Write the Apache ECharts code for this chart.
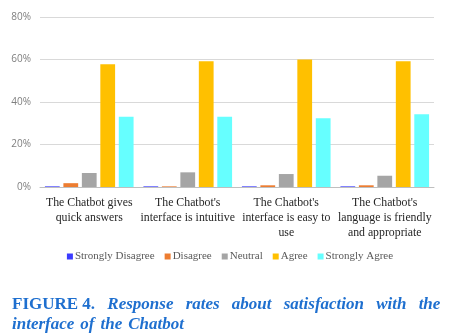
<!DOCTYPE html>
<html>
<head>
<meta charset="utf-8">
<script src="https://cdn.jsdelivr.net/npm/echarts@6/dist/echarts.min.js"></script>
<style>
html,body{margin:0;padding:0;background:#fff;}
#chart{width:460px;height:334px;}
</style>
</head>
<body>
<div id="chart"></div>
<script>
var categories = [
  "The Chatbot gives\nquick answers",
  "The Chatbot's\ninterface is intuitive",
  "The Chatbot's\ninterface is easy to\nuse",
  "The Chatbot's\nlanguage is friendly\nand appropriate"
];
var seriesNames = ["Strongly Disagree", "Disagree", "Neutral", "Agree", "Strongly Agree"];
var stronglyDisagree = [0.3, 0.3, 0.3, 0.3];
var disagree = [1.8, 0.3, 0.8, 0.8];
var neutral = [6.6, 6.9, 6.1, 5.3];
var agree = [57.8, 59.2, 60.0, 59.2];
var stronglyAgree = [33.1, 33.1, 32.4, 34.2];
var yTicks = [0, 20, 40, 60, 80];
var colors = ["#3b3bff", "#ED7D31", "#A5A5A5", "#FFC000", "#66FFFF"];

var values = [stronglyDisagree, disagree, neutral, agree, stronglyAgree];
var serif = "'Liberation Serif', 'DejaVu Serif', serif";
var blue = "#1e6fcf";

var capWords1 = ["Response", "rates", "about", "satisfaction", "with", "the"];
var capWords2 = ["interface", "of", "the", "Chatbot"];
function capLine1() {
  var s = "{b|FIGURE 4.}";
  capWords1.forEach(function (w) { s += "{sp| }{i|" + w + "}"; });
  return s;
}
function capLine2() {
  return capWords2.map(function (w) { return "{i|" + w + "}"; }).join("{sp2| }");
}

var chart = echarts.init(document.getElementById("chart"), null, {renderer: "canvas"});
chart.setOption({
  animation: false,
  color: colors,
  title: {
    text: capLine1() + "\n" + capLine2(),
    left: 7,
    top: 290,
    textStyle: {
      rich: {
        b: {fontFamily: serif, fontWeight: "bold", fontSize: 17, color: blue, lineHeight: 20},
        i: {fontFamily: serif, fontWeight: "bold", fontStyle: "italic", fontSize: 17, color: blue, lineHeight: 20},
        sp: {width: 12.2, fontSize: 17, lineHeight: 20},
        sp2: {width: 6, fontSize: 17, lineHeight: 20}
      }
    }
  },
  legend: {
    data: seriesNames,
    top: 246,
    left: "center",
    itemWidth: 6,
    itemHeight: 6,
    itemGap: 10,
    icon: "rect",
    textStyle: {fontFamily: serif, fontSize: 11, color: "#595959", padding: [0, 0, 0, -3]}
  },
  grid: {left: 40, right: 26, top: 17, bottom: 147},
  xAxis: {
    type: "category",
    data: categories,
    axisTick: {show: false},
    axisLine: {lineStyle: {color: "#bfbfbf"}},
    axisLabel: {
      interval: 0,
      fontFamily: serif,
      fontSize: 11.8,
      color: "#262626",
      lineHeight: 15,
      margin: 8
    }
  },
  yAxis: {
    type: "value",
    min: 0,
    max: 80,
    interval: 20,
    axisLine: {show: false},
    axisTick: {show: false},
    splitLine: {lineStyle: {color: "#d9d9d9"}},
    axisLabel: {
      formatter: function (v) { return yTicks.indexOf(v) >= 0 ? v + "%" : ""; },
      fontFamily: "'Open Sans', 'Liberation Sans', sans-serif",
      fontSize: 10,
      color: "#7f7f7f",
      margin: 9
    }
  },
  series: seriesNames.map(function (n, i) {
    return {
      name: n,
      type: "bar",
      data: values[i],
      barGap: "25%",
      barCategoryGap: "10%",
      itemStyle: {color: colors[i]}
    };
  })
});
</script>
</body>
</html>
